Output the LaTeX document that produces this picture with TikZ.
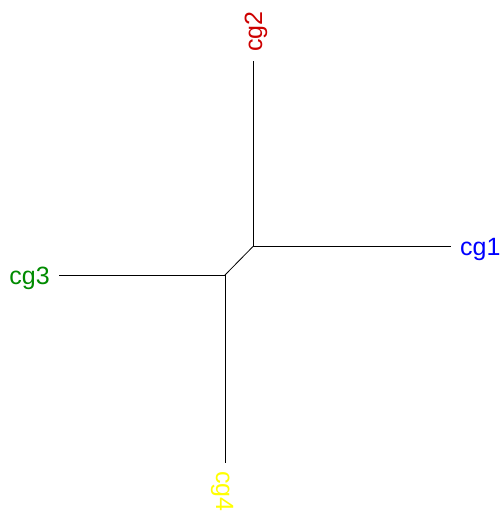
\documentclass[tikz,border=0pt]{standalone}
\usepackage{fontspec}
\setmainfont{Liberation Sans}
\definecolor{cgred}{HTML}{CD0000}
\definecolor{cgblue}{HTML}{0000FF}
\definecolor{cggreen}{HTML}{008B00}
\definecolor{cgyellow}{HTML}{FFFF00}
\begin{document}
\begin{tikzpicture}[x=1pt,y=-1pt,
  branch/.style={draw=black,line width=0.8pt},
  tiplabel/.style={inner sep=0pt,font=\fontsize{25}{29}\selectfont}]
\useasboundingbox (0,0) rectangle (503,515);
\coordinate (j1) at (253,246.5);
\coordinate (j2) at (225,275);
\coordinate (t1) at (451,246.5);
\coordinate (t2) at (253,61);
\coordinate (t3) at (59,275);
\coordinate (t4) at (225,462.5);
\draw[branch] (t2) -- (j1) -- (t1);
\draw[branch] (j1) -- (j2);
\draw[branch] (t3) -- (j2) -- (t4);
\node[tiplabel,text=cgblue,anchor=base west] (l1) at (460,255.5) {cg1};
\node[tiplabel,text=cgred,anchor=base west,rotate=90] (l2) at (262,52) {cg2};
\node[tiplabel,text=cggreen,anchor=base east] (l3) at (50,284) {cg3};
\node[tiplabel,text=cgyellow,anchor=base west,rotate=-90] (l4) at (216,471) {cg4};
\end{tikzpicture}
\end{document}
